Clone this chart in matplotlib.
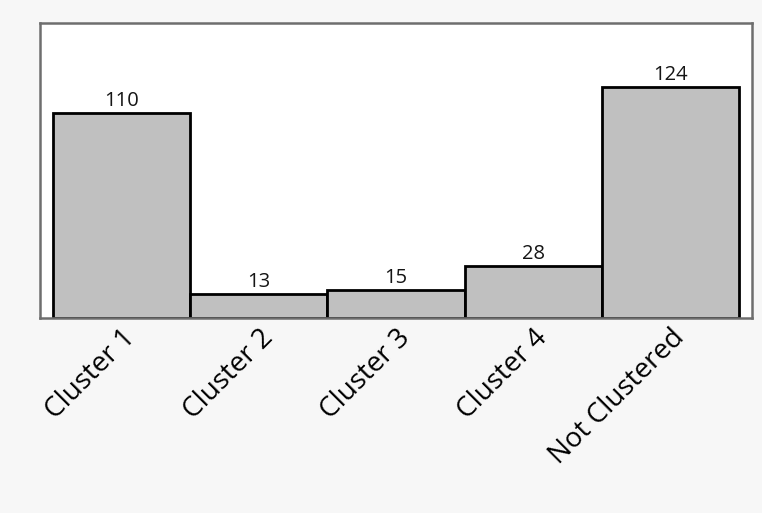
import matplotlib.pyplot as plt

categories = ["Cluster 1", "Cluster 2", "Cluster 3", "Cluster 4", "Not Clustered"]
counts = [110, 13, 15, 28, 124]

plt.rcParams['font.family'] = ['Open Sans', 'DejaVu Sans']

fig = plt.figure(figsize=(7.62, 5.13), dpi=100)
fig.patch.set_facecolor('#f7f7f7')
ax = fig.add_axes([0.0525, 0.380, 0.9345, 0.575])
ax.set_facecolor('white')

x = range(len(categories))
bars = ax.bar(x, counts, width=1.0, color='#c0c0c0', edgecolor='black', linewidth=2)

# count above each bar
for rect, v in zip(bars, counts):
    ax.text(rect.get_x() + rect.get_width() / 2, v + 1, str(v),
            ha='center', va='bottom', fontsize=14.5, color='#151515')

ax.set_xlim(-0.595, 4.595)
ax.set_ylim(0, 158)
ax.set_yticks([])
ax.set_xticks(list(x))
ax.set_xticklabels(categories, rotation=45, ha='right', rotation_mode='anchor',
                   fontsize=20, color='black')
ax.tick_params(axis='x', length=0, pad=4)

for s in ax.spines.values():
    s.set_color('#6e6e6e')
    s.set_linewidth(1.8)

plt.savefig("out.png", dpi=100, facecolor=fig.get_facecolor())
